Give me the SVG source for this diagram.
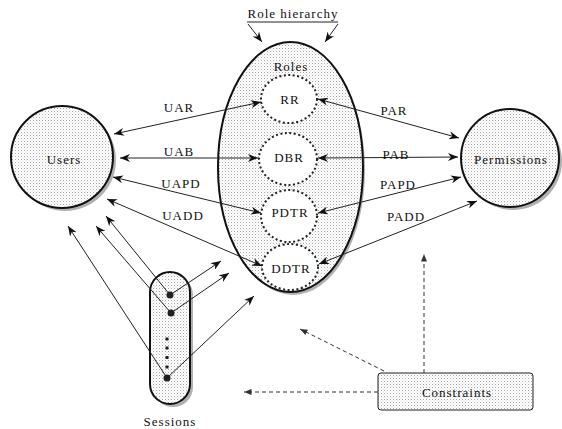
<svg xmlns="http://www.w3.org/2000/svg" width="562" height="429" viewBox="0 0 562 429">
<defs>
<pattern id="dots" width="3" height="3" patternUnits="userSpaceOnUse">
<rect width="3" height="3" fill="#fff"/>
<rect x="0" y="0" width="1" height="1" fill="#a8a8a8"/>
<rect x="1.5" y="1.5" width="1" height="1" fill="#d4d4d4"/>
</pattern>
<marker id="ah" viewBox="0 0 10 8" refX="10" refY="4" markerWidth="10" markerHeight="8" markerUnits="userSpaceOnUse" orient="auto-start-reverse">
<path d="M0,0 L10,4 L0,8 L3,4 Z" fill="#111"/>
</marker>
<marker id="ahs" viewBox="0 0 10 8" refX="10" refY="4" markerWidth="8" markerHeight="6" markerUnits="userSpaceOnUse" orient="auto-start-reverse">
<path d="M0,0 L10,4 L0,8 Z" fill="#333"/>
</marker>
</defs>
<style>
.t{font-family:'Liberation Serif','DejaVu Serif','Times New Roman',serif;font-size:13px;letter-spacing:1px;fill:#111;text-anchor:middle}
.big{fill:url(#dots);stroke:#111;stroke-width:2}
.shadow{fill:#b0b0b0;stroke:none}
.inner{fill:#fff;stroke:#222;stroke-width:2;stroke-dasharray:2 2.5}
.c{stroke:#222;stroke-width:1;fill:none}
.d{stroke:#333;stroke-width:1;fill:none;stroke-dasharray:4 3}
</style>
<rect width="562" height="429" fill="#fff"/>

<g id="role-hierarchy">
<text class="t" font-family="Liberation Serif, serif" x="293" y="18">Role hierarchy</text>
<line x1="247" y1="22" x2="338" y2="22" class="c"/>
<line x1="248" y1="24" x2="262" y2="42" class="c" marker-end="url(#ah)"/>
<line x1="338" y1="24" x2="325" y2="42" class="c" marker-end="url(#ah)"/>
</g>

<g id="users">
<circle cx="65" cy="160" r="51" class="shadow"/>
<circle cx="62" cy="157" r="51" class="big"/>
<text class="t" x="64" y="164">Users</text>
</g>

<g id="permissions">
<circle cx="513" cy="161" r="49" class="shadow"/>
<circle cx="510" cy="158" r="49" class="big"/>
<text class="t" x="511" y="164">Permissions</text>
</g>

<g id="roles">
<ellipse cx="293" cy="170" rx="72" ry="125" class="shadow"/>
<ellipse cx="290.5" cy="167" rx="72.5" ry="125" class="big"/>
<text class="t" x="291" y="71">Roles</text>
</g>

<g id="RR">
<ellipse cx="289" cy="99" rx="28" ry="24" class="inner"/>
<text class="t" x="290" y="104">RR</text>
</g>
<g id="DBR">
<ellipse cx="288" cy="159" rx="29" ry="26" class="inner"/>
<text class="t" x="289" y="162">DBR</text>
</g>
<g id="PDTR">
<ellipse cx="289" cy="216" rx="28" ry="26" class="inner"/>
<text class="t" x="290" y="217">PDTR</text>
</g>
<g id="DDTR">
<ellipse cx="290" cy="267" rx="28" ry="23" class="inner"/>
<text class="t" x="291" y="273">DDTR</text>
</g>

<g id="sessions">
<rect x="153" y="275" width="40" height="132" rx="20" class="shadow"/>
<rect x="150" y="272" width="40" height="132" rx="20" class="big"/>
<circle cx="170" cy="295" r="3.5" fill="#222"/>
<circle cx="171" cy="313" r="3.5" fill="#222"/>
<circle cx="167" cy="378" r="3.5" fill="#222"/>
<rect x="165.5" y="337.5" width="3" height="3" fill="#222"/>
<rect x="165.5" y="346.5" width="3" height="3" fill="#222"/>
<rect x="165.5" y="356" width="3" height="3" fill="#222"/>
<rect x="165.5" y="365.5" width="3" height="3" fill="#222"/>
<text class="t" x="170" y="426">Sessions</text>
</g>

<g id="constraints">
<rect x="378" y="373" width="155" height="37" rx="3" fill="url(#dots)" stroke="#222" stroke-width="1"/>
<text class="t" x="457" y="397">Constraints</text>
</g>

<g id="connectors">
<line x1="114" y1="134" x2="261" y2="102" class="c" marker-start="url(#ah)" marker-end="url(#ah)"/>
<line x1="120" y1="158" x2="258" y2="158" class="c" marker-start="url(#ah)" marker-end="url(#ah)"/>
<line x1="113" y1="177" x2="261" y2="213" class="c" marker-start="url(#ah)" marker-end="url(#ah)"/>
<line x1="107" y1="199" x2="262" y2="266" class="c" marker-start="url(#ah)" marker-end="url(#ah)"/>
<line x1="318" y1="99" x2="459" y2="138" class="c" marker-start="url(#ah)" marker-end="url(#ah)"/>
<line x1="318" y1="158" x2="458" y2="157" class="c" marker-start="url(#ah)" marker-end="url(#ah)"/>
<line x1="318" y1="213" x2="461" y2="177" class="c" marker-start="url(#ah)" marker-end="url(#ah)"/>
<line x1="319" y1="264" x2="477" y2="201" class="c" marker-start="url(#ah)" marker-end="url(#ah)"/>

<line x1="170" y1="295" x2="106" y2="216" class="c" marker-end="url(#ah)"/>
<line x1="170" y1="295" x2="221" y2="261" class="c" marker-end="url(#ah)"/>
<line x1="171" y1="313" x2="96" y2="226" class="c" marker-end="url(#ah)"/>
<line x1="171" y1="313" x2="229" y2="273" class="c" marker-end="url(#ah)"/>
<line x1="167" y1="378" x2="68" y2="226" class="c" marker-end="url(#ah)"/>
<line x1="167" y1="378" x2="254" y2="296" class="c" marker-end="url(#ah)"/>

<line x1="424" y1="373" x2="424" y2="254" class="d" marker-end="url(#ahs)"/>
<line x1="384" y1="371" x2="300" y2="329" class="d" marker-end="url(#ahs)"/>
<line x1="378" y1="392" x2="244" y2="392" class="d" marker-end="url(#ahs)"/>

<text class="t" x="179" y="112">UAR</text>
<text class="t" x="179" y="156">UAB</text>
<text class="t" x="181" y="188">UAPD</text>
<text class="t" x="183" y="220">UADD</text>
<text class="t" x="394" y="115">PAR</text>
<text class="t" x="396" y="159">PAB</text>
<text class="t" x="398" y="189">PAPD</text>
<text class="t" x="406" y="221">PADD</text>
</g>
</svg>
